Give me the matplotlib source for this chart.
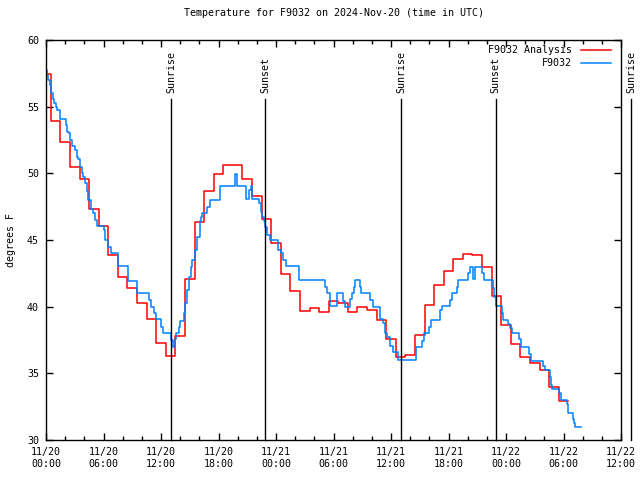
import numpy as np
import matplotlib
matplotlib.use("Agg")
import matplotlib.pyplot as plt
from matplotlib.ticker import MultipleLocator

# hours since 2024-11-20 00:00 UTC
analysis_hours = np.arange(55)
analysis_temp = [57.45, 53.9, 52.35, 50.45, 49.6, 47.3, 46.05, 43.9, 42.2, 41.4,
                 40.3, 39.1, 37.3, 36.3, 37.8, 42.05, 46.35, 48.65, 49.95, 50.6,
                 50.6, 49.6, 48.3, 46.55, 44.75, 42.45, 41.15, 39.65, 39.9, 39.6,
                 40.4, 40.25, 39.6, 40.0, 39.75, 39.0, 37.6, 36.25, 36.35, 37.9,
                 40.1, 41.65, 42.7, 43.6, 43.95, 43.9, 42.95, 40.8, 38.6, 37.2,
                 36.2, 35.75, 35.25, 34.0, 32.9]

obs_hours = [0.04, 0.15, 0.25, 0.39, 0.56, 0.70, 0.84, 1.01, 1.15, 1.43,
             2.06, 2.19, 2.37, 2.55, 2.68, 3.07, 3.20, 3.38, 3.59, 3.73,
             3.86, 4.04, 4.25, 4.43, 4.67, 4.87, 5.08, 5.37, 6.02, 6.20,
             6.45, 6.75, 7.54, 8.60, 9.50, 10.75, 10.93, 11.27, 11.45, 12.05,
             12.21, 13.09, 13.26, 13.43, 13.61, 13.85, 13.99, 14.37, 14.53, 14.69,
             14.90, 15.10, 15.24, 15.52, 15.73, 16.04, 16.22, 16.33, 16.85, 17.09,
             18.13, 19.70, 19.94, 20.85, 21.19, 21.34, 21.50, 22.23, 22.41, 22.59,
             22.72, 22.88, 23.04, 23.40, 24.22, 24.50, 24.76, 25.09, 26.41, 29.09,
             29.27, 29.61, 30.34, 31.00, 31.18, 31.73, 31.91, 32.12, 32.22, 32.80,
             32.92, 33.82, 34.07, 34.86, 35.15, 35.36, 35.56, 35.88, 36.19, 36.74,
             38.62, 39.27, 39.43, 39.98, 40.16, 41.10, 41.27, 42.11, 42.32, 42.84,
             43.01, 44.07, 44.23, 44.54, 44.78, 45.51, 45.69, 46.60, 46.73, 46.94,
             47.54, 47.72, 48.25, 48.41, 48.61, 49.37, 49.55, 50.44, 50.60, 51.90,
             52.06, 52.58, 52.69, 52.82, 53.57, 53.70, 54.35, 54.48, 54.97, 55.11,
             55.19, 55.78]
obs_temp = [57.75, 57.4, 57.0, 56.6, 56.0, 55.6, 55.25, 55.0, 54.75, 54.05,
            53.6, 53.1, 53.0, 52.5, 52.05, 51.75, 51.2, 51.1, 50.5, 50.0,
            49.75, 49.3, 48.7, 48.0, 47.3, 47.0, 46.5, 46.05, 45.75, 45.0,
            44.5, 44.0, 43.05, 41.95, 41.0, 40.5, 40.0, 39.5, 39.05, 38.5,
            38.0, 37.5, 37.0, 37.6, 38.0, 38.5, 38.95, 39.5, 40.25, 41.25,
            42.25, 43.0, 43.5, 44.25, 45.25, 46.4, 46.75, 47.0, 47.5, 48.0,
            49.05, 49.95, 49.05, 48.05, 48.75, 49.05, 48.05, 47.75, 47.1, 46.75,
            46.4, 46.0, 45.4, 45.0, 44.25, 44.0, 43.5, 43.05, 42.0, 41.5,
            41.0, 40.05, 41.0, 40.4, 40.0, 40.55, 41.0, 41.45, 42.0, 41.45,
            41.0, 40.5, 40.0, 39.1, 38.75, 38.05, 37.75, 37.05, 36.6, 36.0,
            37.0, 37.4, 38.0, 38.5, 39.0, 39.75, 40.05, 40.5, 41.0, 41.5,
            42.0, 42.5, 43.0, 42.1, 43.0, 42.5, 42.0, 41.4, 40.75, 40.05,
            39.5, 39.0, 38.7, 38.4, 38.0, 37.55, 37.0, 36.45, 35.95, 35.55,
            35.25, 34.75, 34.1, 33.8, 33.5, 33.0, 32.7, 32.05, 31.55, 31.3,
            31.0, 31.0]

sunrise_hours = [13.08, 37.06, 61.05]
sunset_hours = [22.87, 46.91]

tick_hours = list(range(0, 61, 6))
tick_labels = ["11/20\n00:00", "11/20\n06:00", "11/20\n12:00", "11/20\n18:00",
               "11/21\n00:00", "11/21\n06:00", "11/21\n12:00", "11/21\n18:00",
               "11/22\n00:00", "11/22\n06:00", "11/22\n12:00"]

plt.rcParams['font.family'] = 'DejaVu Sans Mono'
plt.rcParams['font.size'] = 7.2

fig = plt.figure(figsize=(6.4, 4.8), dpi=100)
ax = fig.add_axes([46 / 640, 40 / 480, 575 / 640, 400 / 480])

# analysis: hourly values drawn as steps centred on the hour
edges = np.append(analysis_hours - 0.5, analysis_hours[-1] + 0.5)
vals = np.append(analysis_temp, analysis_temp[-1])
ax.plot(edges, vals, drawstyle='steps-post', color='#ff0000', lw=1.1)
ax.plot(obs_hours, obs_temp, drawstyle='steps-post', color='#0080ff', lw=1.1)

ax.set_xlim(0, 60)
ax.set_ylim(30, 60)

for h in sunrise_hours:
    ax.plot([h, h], [30, 55.6], color='black', lw=1.0, clip_on=False)
    ax.text(h, 56.05, 'Sunrise', rotation=90, ha='center', va='bottom',
            clip_on=False)
for h in sunset_hours:
    ax.plot([h, h], [30, 55.6], color='black', lw=1.0, clip_on=False)
    ax.text(h, 56.05, 'Sunset', rotation=90, ha='center', va='bottom',
            clip_on=False)

ax.set_xticks(tick_hours)
ax.set_xticklabels(tick_labels)
ax.xaxis.set_minor_locator(MultipleLocator(2))
ax.set_yticks(range(30, 61, 5))
ax.tick_params(direction='in', top=True, right=True, length=5, width=1, pad=5)
ax.tick_params(which='minor', direction='in', top=True, length=3, width=1)
for s in ax.spines.values():
    s.set_linewidth(1.0)

ax.set_title('Temperature for F9032 on 2024-Nov-20 (time in UTC)',
             fontsize=7.2, pad=17)
ax.set_ylabel('degrees F', labelpad=8)

# legend, gnuplot style: right-justified text then a line sample
leg_rows = [('F9032 Analysis', '#ff0000'), ('F9032', '#0080ff')]
for i, (lab, col) in enumerate(leg_rows):
    yy = 0.974 - i * 0.031
    ax.text(0.915, yy, lab, transform=ax.transAxes, ha='right', va='center')
    ax.plot([0.930, 0.982], [yy, yy], transform=ax.transAxes, color=col, lw=1.1)

fig.savefig('out.png', dpi=100)
